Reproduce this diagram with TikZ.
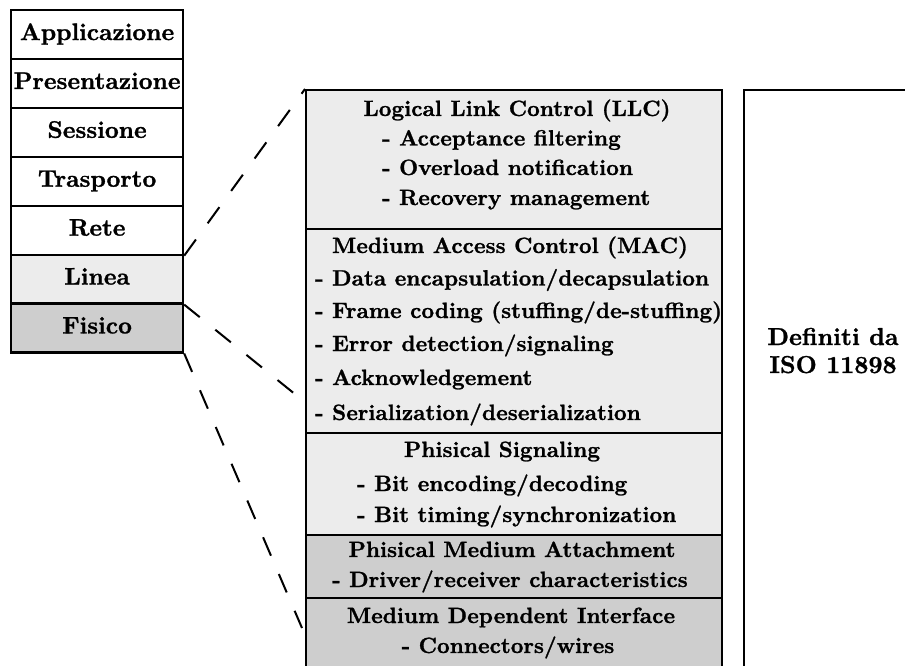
\documentclass[tikz,border=0pt]{standalone}
\usepackage{fontspec}
\newfontfamily\heavyfont{lmroman10-bold}[Extension=.otf, FakeBold=1.1]
\newcommand\layerfont{\heavyfont\fontsize{24}{28}\selectfont}
\newcommand\subfont{\heavyfont\fontsize{22.1}{26}\selectfont}
\newcommand\isofont{\heavyfont\fontsize{24.5}{28}\selectfont}
\definecolor{lightfill}{RGB}{236,236,236}
\definecolor{darkfill}{RGB}{206,206,206}
\begin{document}
\begin{tikzpicture}[x=1pt,y=-1pt,
  osi/.style={draw, line width=2.2pt, minimum width=172pt, minimum height=48.9pt,
    anchor=north west, inner sep=0pt, text height=16pt, text depth=5pt, font=\layerfont},
  sublayer/.style={draw, line width=2.2pt, minimum width=416pt, anchor=north west, inner sep=0pt},
  txt/.style={inner sep=0pt, font=\subfont},
  dashline/.style={line width=2pt, dash pattern=on 20pt off 20pt}]
\useasboundingbox (0,0) rectangle (905,666);
\clip (0,0) rectangle (905,666);

% OSI reference model stack
\node[osi] (app)    at (10,9)     {Applicazione};
\node[osi] (pres)   at (10,57.9)  {Presentazione};
\node[osi] (sess)   at (10,106.8) {Sessione};
\node[osi] (trasp)  at (10,155.7) {Trasporto};
\node[osi] (rete)   at (10,204.6) {Rete};
\node[osi, fill=lightfill] (linea)  at (10,253.5) {Linea};
\node[osi, fill=darkfill]  (fisico) at (10,302.4) {Fisico};

% CAN sublayers
\node[sublayer, fill=lightfill, minimum height=139pt] (llc) at (305,89) {};
\node[sublayer, fill=lightfill, minimum height=204pt] (mac) at (305,228) {};
\node[sublayer, fill=lightfill, minimum height=102pt] (pls) at (305,432) {};
\node[sublayer, fill=darkfill,  minimum height=63pt]  (pma) at (305,534) {};
\node[sublayer, fill=darkfill,  minimum height=110pt] (mdi) at (305,597) {};

% LLC
\node[txt, anchor=base] (llct) at (517,116) {Logical Link Control (LLC)};
\node[txt, anchor=base west] (llc1) at (382,145.5) {- Acceptance filtering};
\node[txt, anchor=base west] (llc2) at (382,175) {- Overload notification};
\node[txt, anchor=base west] (llc3) at (382,205) {- Recovery management};

% MAC
\node[txt, anchor=base] (mact) at (510,253) {Medium Access Control (MAC)};
\node[txt, anchor=base west] (mac1) at (315,285.5) {- Data encapsulation/decapsulation};
\node[txt, anchor=base west] (mac2) at (315,318) {- Frame coding (stuffing/de-stuffing)};
\node[txt, anchor=base west] (mac3) at (315,351) {- Error detection/signaling};
\node[txt, anchor=base west] (mac4) at (315,385) {- Acknowledgement};
\node[txt, anchor=base west] (mac5) at (315,420) {- Serialization/deserialization};

% Physical signaling
\node[txt, anchor=base] (plst) at (502,457) {Phisical Signaling};
\node[txt, anchor=base west] (pls1) at (357,491) {- Bit encoding/decoding};
\node[txt, anchor=base west] (pls2) at (357,522) {- Bit timing/synchronization};

% Physical medium attachment
\node[txt, anchor=base] (pmat) at (512,557) {Phisical Medium Attachment};
\node[txt, anchor=base] (pma1) at (510,587) {- Driver/receiver characteristics};

% Medium dependent interface
\node[txt, anchor=base] (mdit) at (511,623) {Medium Dependent Interface};
\node[txt, anchor=base] (mdi1) at (508,653) {- Connectors/wires};

% Standard scope
\node[draw, line width=2.2pt, minimum width=180pt, minimum height=640pt, anchor=north west, inner sep=0pt] (iso) at (743,89) {};
\node[txt, font=\isofont, align=center, anchor=base] (isot) at (833,373) {Definiti da\\[0pt]ISO 11898};

% Mapping lines
\coordinate (macend) at (301,399);
\coordinate (mdiend) at (302,628);
\draw[dashline] (rete.south east) -- (llc.north west);
\draw[dashline] (linea.south east) -- (macend);
\draw[dashline] (fisico.south east) -- (mdiend);
\end{tikzpicture}
\end{document}
